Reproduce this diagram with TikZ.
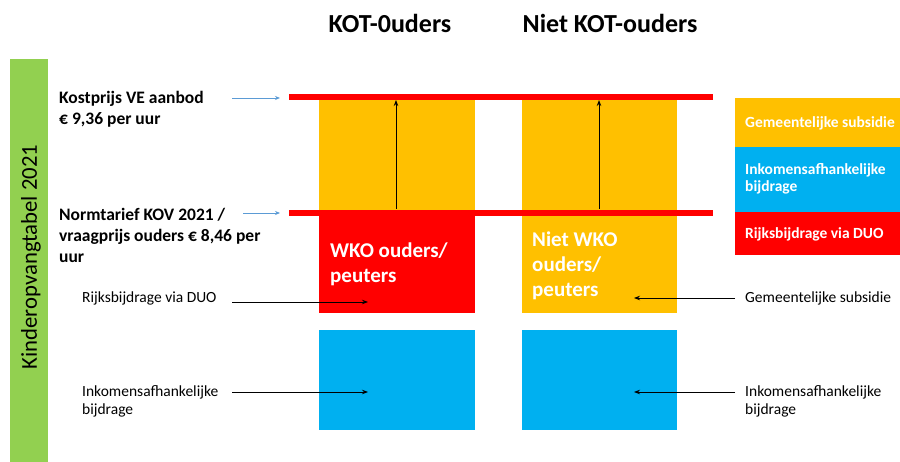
\documentclass[tikz,border=0pt]{standalone}
\usepackage{fontspec}
\setmainfont{Carlito}
\usetikzlibrary{arrows.meta}
\definecolor{kyellow}{HTML}{FFC000}
\definecolor{kblue}{HTML}{00B0F0}
\definecolor{kred}{HTML}{FF0000}
\definecolor{kgreen}{HTML}{92D050}
\definecolor{karrow}{HTML}{5B9BD5}
\begin{document}
\begin{tikzpicture}[x=1pt,y=-1pt,
  lbl/.style={inner sep=0pt,anchor=base west,align=left,font=\fontsize{15.5}{18}\selectfont},
  hdr/.style={inner sep=0pt,anchor=base,font=\bfseries\fontsize{26}{30}\selectfont},
  lefttxt/.style={inner sep=0pt,anchor=base west,align=left,font=\bfseries\fontsize{17.5}{21}\selectfont},
  intxt/.style={inner sep=0pt,anchor=base west,align=left,text=white,font=\bfseries\fontsize{21}{25}\selectfont},
  legtxt/.style={inner sep=0pt,anchor=base west,align=left,text=white,font=\bfseries\fontsize{15.5}{17}\selectfont},
  blk/.style={-{Stealth[length=6pt,width=4.5pt]},line width=0.9pt,black},
  blu/.style={-{Stealth[length=5pt,width=4pt]},line width=0.8pt,karrow},
  redline/.style={kred,line width=6pt}
]
\useasboundingbox (0,0) rectangle (900,462);
% green side bar
\fill[kgreen] (10,59) rectangle (48,462);
\node[rotate=90,font=\fontsize{22.7}{26}\selectfont,inner sep=0pt] (side) at (31,257) {Kinderopvangtabel 2021};
% headers
\node[hdr] (h1) at (390,33) {KOT-0uders};
\node[hdr] (h2) at (610,33) {Niet KOT-ouders};
% boxes
\fill[kyellow] (319,100) rectangle (475,213);
\fill[kyellow] (522,100) rectangle (677,213);
\fill[kred] (319,213) rectangle (475,313);
\fill[kyellow] (522,216) rectangle (677,313);
\fill[kblue] (319,330) rectangle (475,430);
\fill[kblue] (522,330) rectangle (677,430);
% red lines
\draw[redline] (289,97.5) -- (713,97.5);
\draw[redline] (289,213.5) -- (713,213.5);
% legend
\fill[kyellow] (735,98) rectangle (900,147);
\fill[kblue] (735,147) rectangle (900,212);
\fill[kred] (735,212) rectangle (900,255);
\node[legtxt] (lg1) at (745,128) {Gemeentelijke subsidie};
\node[legtxt] (lg2) at (745,192) {Inkomensafhankelijke\\bijdrage};
\node[legtxt] (lg3) at (745,239) {Rijksbijdrage via DUO};
% left labels (anchor = baseline of last line)
\node[lefttxt] (kp) at (59,125) {Kostprijs VE aanbod\\€ 9,36 per uur};
\node[lefttxt] (nt) at (59,263) {Normtarief KOV 2021 /\\vraagprijs ouders € 8,46 per\\uur};
\coordinate (b1s) at (232,98);
\coordinate (b1e) at (280,98);
\coordinate (b2s) at (243,213);
\coordinate (b2e) at (280,213);
\draw[blu] (b1s) -- (b1e);
\draw[blu] (b2s) -- (b2e);
% vertical arrows
\coordinate (v1s) at (396,209);
\coordinate (v1e) at (396,100);
\coordinate (v2s) at (599,209);
\coordinate (v2e) at (599,100);
\draw[blk] (v1s) -- (v1e);
\draw[blk] (v2s) -- (v2e);
% box texts
\node[intxt] (wko) at (330,283) {WKO ouders/\\peuters};
\node[intxt] (nwko) at (532,297) {Niet WKO\\ouders/\\peuters};
% side labels
\node[lbl] (l1) at (82,303) {Rijksbijdrage via DUO};
\node[lbl] (l2) at (82,414) {Inkomensafhankelijke\\bijdrage};
\node[lbl] (r1) at (745,303) {Gemeentelijke subsidie};
\node[lbl] (r2) at (745,414) {Inkomensafhankelijke\\bijdrage};
\coordinate (a1s) at (232,302);
\coordinate (a1e) at (368,302);
\coordinate (a2s) at (232,392);
\coordinate (a2e) at (368,392);
\coordinate (a3s) at (735,298);
\coordinate (a3e) at (634,298);
\coordinate (a4s) at (735,392);
\coordinate (a4e) at (634,392);
\draw[blk] (a1s) -- (a1e);
\draw[blk] (a2s) -- (a2e);
\draw[blk] (a3s) -- (a3e);
\draw[blk] (a4s) -- (a4e);
\end{tikzpicture}
\end{document}
